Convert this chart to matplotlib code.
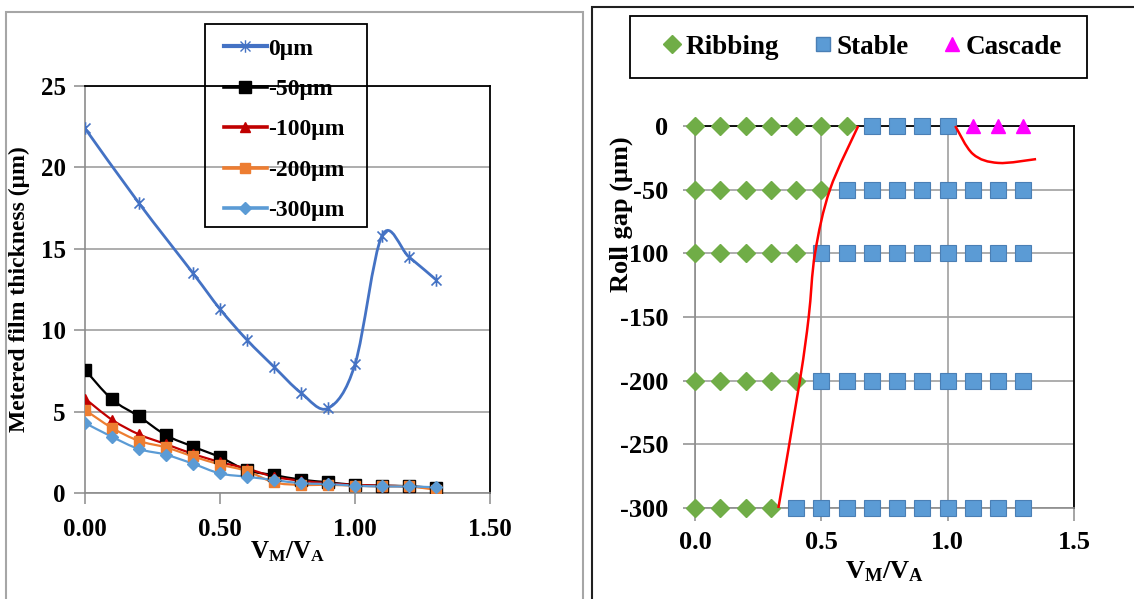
import numpy as np
import matplotlib
matplotlib.use('Agg')
import matplotlib.pyplot as plt
from matplotlib.path import Path
from matplotlib.patches import PathPatch, Rectangle
from matplotlib.lines import Line2D

plt.rcParams['font.family'] = ['Liberation Serif', 'DejaVu Serif']
plt.rcParams['font.weight'] = 'bold'
plt.rcParams['axes.labelweight'] = 'bold'
plt.rcParams['axes.unicode_minus'] = False
plt.rcParams['mathtext.fontset'] = 'custom'
plt.rcParams['mathtext.rm'] = 'Liberation Serif:bold'
plt.rcParams['mathtext.it'] = 'Liberation Serif:bold'
plt.rcParams['mathtext.bf'] = 'Liberation Serif:bold'

# left chart: metered film thickness vs speed ratio
ratio = [0.0, 0.1, 0.2, 0.3, 0.4, 0.5, 0.6, 0.7, 0.8, 0.9, 1.0, 1.1, 1.2, 1.3]
ratio_0 = [0.0, 0.2, 0.4, 0.5, 0.6, 0.7, 0.8, 0.9, 1.0, 1.1, 1.2, 1.3]
film_0 = [22.4, 17.8, 13.5, 11.3, 9.4, 7.75, 6.15, 5.2, 7.9, 15.8, 14.5, 13.1]
film_50 = [7.57, 5.75, 4.7, 3.55, 2.85, 2.2, 1.4, 1.1, 0.82, 0.66, 0.5, 0.45, 0.42, 0.3]
film_100 = [5.8, 4.5, 3.6, 3.0, 2.4, 1.9, 1.5, 1.0, 0.75, 0.6, 0.5, 0.45, 0.4, 0.3]
film_200 = [5.1, 4.0, 3.2, 2.8, 2.25, 1.75, 1.35, 0.65, 0.5, 0.5, 0.45, 0.4, 0.4, 0.2]
film_300 = [4.3, 3.45, 2.7, 2.35, 1.8, 1.2, 1.0, 0.8, 0.6, 0.55, 0.45, 0.4, 0.4, 0.35]

# right chart: regime map
gaps = [0, -50, -100, -200, -300]
first_stable = [0.7, 0.6, 0.5, 0.5, 0.4]   # first ratio that is stable for each gap
cascade_x = [1.1, 1.2, 1.3]
cascade_gap = 0
stable_end_0 = 1.0
bound1_x = [0.33, 0.415, 0.45, 0.475, 0.534, 0.646]
bound1_y = [-300, -200, -150, -100, -50, 0]
bound2_x = [1.03, 1.1, 1.2, 1.35]
bound2_y = [0, -22, -29, -26]


def smooth_path(x, y):
    # excel style smoothed line as cubic bezier segments
    x = np.asarray(x, float)
    y = np.asarray(y, float)
    pts = np.column_stack([x, y])
    n = len(pts)
    verts = [pts[0]]
    codes = [Path.MOVETO]
    for i in range(n - 1):
        p0 = pts[i - 1] if i > 0 else pts[i]
        p1 = pts[i]
        p2 = pts[i + 1]
        p3 = pts[i + 2] if i + 2 < n else pts[i + 1]
        c1 = p1 + (p2 - p0) / 6.0
        c2 = p2 - (p3 - p1) / 6.0
        verts += [c1, c2, p2]
        codes += [Path.CURVE4] * 3
    return Path(verts, codes)


W, H = 1134, 599
fig = plt.figure(figsize=(W / 100, H / 100), dpi=100)


def px_axes(x0, y0, x1, y1):
    return fig.add_axes([x0 / W, 1 - y1 / H, (x1 - x0) / W, (y1 - y0) / H])


def px_box(x0, y0, x1, y1, color, lw):
    fig.patches.append(Rectangle((x0 / W, 1 - y1 / H), (x1 - x0) / W, (y1 - y0) / H,
                                 transform=fig.transFigure, fill=False,
                                 edgecolor=color, lw=lw, zorder=5))


# panel frames
px_box(6, 12, 583, 612, '#a6a6a6', 1.5)
px_box(592, 7, 1145, 612, '#202020', 1.5)

grid_c = '#a0a0a0'

# ---------------- left chart
ax = px_axes(85, 86, 490, 493)
ax.set_xlim(0, 1.5)
ax.set_ylim(0, 25)
ax.set_yticks([0, 5, 10, 15, 20, 25])
ax.set_xticks([0, 0.5, 1.0, 1.5])
ax.set_xticklabels(['0.00', '0.50', '1.00', '1.50'])
ax.grid(axis='y', color=grid_c, lw=1.2)
ax.set_axisbelow(True)
for s in ['top', 'right']:
    ax.spines[s].set_color('black')
    ax.spines[s].set_linewidth(1.3)
for s in ['left', 'bottom']:
    ax.spines[s].set_color('#8c8c8c')
    ax.spines[s].set_linewidth(1.2)
ax.tick_params(direction='out', length=8, width=1.1, color='#8c8c8c', labelsize=18)
ax.tick_params(axis='y', pad=6)
ax.tick_params(axis='x', pad=10)

star = Path([(-1, -1), (1, 1), (-1, 1), (1, -1), (0, -1.25), (0, 1.25)],
            [Path.MOVETO, Path.LINETO, Path.MOVETO, Path.LINETO, Path.MOVETO, Path.LINETO])

series = [
    (ratio_0, film_0, '#4472c4', star, 9, '0μm', 2.0),
    (ratio, film_50, 'black', 's', 8, '-50μm', 1.6),
    (ratio, film_100, '#c00000', '^', 7, '-100μm', 1.6),
    (ratio, film_200, '#ed7d31', 's', 7, '-200μm', 1.6),
    (ratio, film_300, '#5b9bd5', 'D', 6, '-300μm', 1.6),
]
handles = []
for xs, ys, col, mk, ms, lab, lw in series:
    ax.add_patch(PathPatch(smooth_path(xs, ys), facecolor='none', edgecolor=col, lw=lw,
                           zorder=3))
    if mk is star:
        ax.plot(xs, ys, ls='none', marker=mk, ms=ms, mfc='none', mec=col, mew=1.2, zorder=4)
    else:
        ax.plot(xs, ys, ls='none', marker=mk, ms=ms, color=col, zorder=4)
    handles.append(Line2D([], [], color=col, lw=lw + 1, marker=mk, ms=ms,
                          mfc=('none' if mk is star else col), mec=col))

px_box(205, 24, 367, 227, 'black', 1.3)
leg = fig.legend(handles, [h[5] for h in series], loc='upper left',
                 bbox_to_anchor=(224 / W, 1 - 38 / H), fontsize=17,
                 frameon=False, borderaxespad=0, borderpad=0,
                 handlelength=1.8, handletextpad=0.05, labelspacing=0.8)

ax.set_ylabel('Metered film thickness (μm)', fontsize=17)
ax.yaxis.set_label_coords(-0.135, 0.5)
ax.set_xlabel('$\\mathrm{V_M/V_A}$', fontsize=18)
ax.xaxis.set_label_coords(0.5, -0.113)

# ---------------- right chart
ax2 = px_axes(695, 126, 1074, 508)
ax2.set_xlim(0, 1.5)
ax2.set_ylim(-300, 0)
ax2.set_yticks([0, -50, -100, -150, -200, -250, -300])
ax2.set_yticklabels(['0', '-50', '-100', '-150', '-200', '-250', '-300'])
ax2.set_xticks([0, 0.5, 1.0, 1.5])
ax2.set_xticklabels(['0.0', '0.5', '1.0', '1.5'])
ax2.grid(axis='both', color=grid_c, lw=1.2)
ax2.set_axisbelow(True)
for s in ['top', 'right']:
    ax2.spines[s].set_color('black')
    ax2.spines[s].set_linewidth(1.3)
for s in ['left', 'bottom']:
    ax2.spines[s].set_color('#8c8c8c')
    ax2.spines[s].set_linewidth(1.2)
ax2.tick_params(direction='out', length=9, width=1.1, color='#8c8c8c', labelsize=19)
ax2.tick_params(axis='y', pad=10)
ax2.tick_params(axis='x', pad=7.5)

for g, fs in zip(gaps, first_stable):
    xr = [v for v in ratio if v < fs - 1e-9]
    end = stable_end_0 if g == cascade_gap else ratio[-1]
    xs = [v for v in ratio if fs - 1e-9 <= v <= end + 1e-9]
    ax2.plot(xr, [g] * len(xr), ls='none', marker='D', ms=9, color='#70ad47',
             clip_on=False, zorder=4)
    ax2.plot(xs, [g] * len(xs), ls='none', marker='s', ms=11, mfc='#5b9bd5',
             mec='#4a7fb5', mew=0.8, clip_on=False, zorder=4)
ax2.plot(cascade_x, [cascade_gap] * len(cascade_x), ls='none', marker='^', ms=10,
         color='#ff00ff', clip_on=False, zorder=4)

ax2.add_patch(PathPatch(smooth_path(bound1_x, bound1_y), facecolor='none',
                        edgecolor='#ff0000', lw=1.8, zorder=5, clip_on=False))
ax2.add_patch(PathPatch(smooth_path(bound2_x, bound2_y), facecolor='none',
                        edgecolor='#ff0000', lw=1.8, zorder=5, clip_on=False))

h2 = [Line2D([], [], ls='none', marker='D', ms=9, color='#70ad47'),
      Line2D([], [], ls='none', marker='s', ms=10, mfc='#5b9bd5', mec='#4a7fb5'),
      Line2D([], [], ls='none', marker='^', ms=10, color='#ff00ff')]
px_box(630, 16, 1087, 78, 'black', 1.3)
leg2 = fig.legend(h2, ['Ribbing', 'Stable', 'Cascade'], loc='center',
                  bbox_to_anchor=(863 / W, 1 - 47 / H), ncol=3,
                  fontsize=19.5, frameon=False, borderaxespad=0, borderpad=0,
                  handlelength=0.6, handletextpad=0.2, columnspacing=1.3)

fig.text(621 / W, 1 - 214 / H, 'Roll gap (μm)', rotation=90, fontsize=19,
         ha='center', va='center')
ax2.set_xlabel('$\\mathrm{V_M/V_A}$', fontsize=19)
ax2.xaxis.set_label_coords(0.5, -0.134)

fig.savefig('out.png', dpi=100)
